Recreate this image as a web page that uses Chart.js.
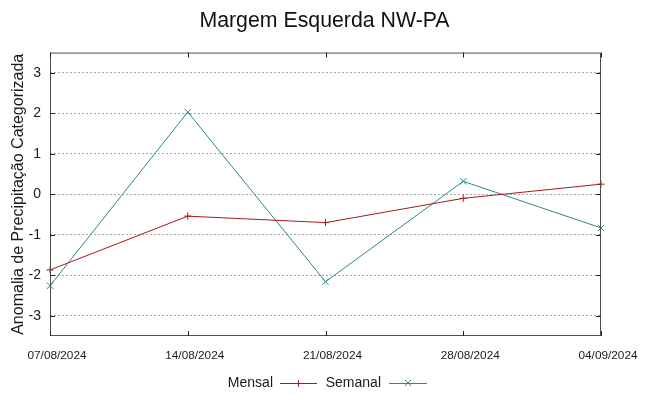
<!DOCTYPE html>
<html>
<head>
<meta charset="utf-8">
<script src="https://cdn.jsdelivr.net/npm/chart.js@4"></script>
<style>
  html, body { margin: 0; padding: 0; background: #fff; }
  #wrap { width: 649px; height: 396px; }
</style>
</head>
<body>
<div id="wrap"><canvas id="lineChart" width="649" height="396"></canvas></div>
<script>
// Dados
var datas = ['07/08/2024', '14/08/2024', '21/08/2024', '28/08/2024', '04/09/2024'];
var mensal = [-1.87, -0.54, -0.70, -0.10, 0.25];
var semanal = [-2.26, 2.03, -2.16, 0.32, -0.83];
var yTicks = [-3, -2, -1, 0, 1, 2, 3];

var fonte = "'Liberation Sans', Arial, sans-serif";

// borda estilo gnuplot, com marcas de tick para dentro
var bordaPlugin = {
    id: 'borda',
    afterDatasetsDraw: function (chart) {
        var ctx = chart.ctx;
        var a = chart.chartArea;
        var x = chart.scales.x, y = chart.scales.y;
        var t = 5;
        ctx.save();
        ctx.strokeStyle = '#505050';
        ctx.lineWidth = 1;
        ctx.strokeRect(a.left + 0.5, a.top + 0.5, a.right - a.left - 1, a.bottom - a.top - 1);
        ctx.strokeStyle = '#202020';
        ctx.beginPath();
        yTicks.forEach(function (v) {
            var py = Math.round(y.getPixelForValue(v)) + 0.5;
            ctx.moveTo(a.left, py); ctx.lineTo(a.left + t, py);
            ctx.moveTo(a.right, py); ctx.lineTo(a.right - t, py);
        });
        datas.forEach(function (d, i) {
            var px = Math.round(x.getPixelForValue(i)) + 0.5;
            ctx.moveTo(px, a.bottom); ctx.lineTo(px, a.bottom - t);
            ctx.moveTo(px, a.top); ctx.lineTo(px, a.top + t);
        });
        ctx.stroke();
        ctx.restore();
    }
};

// legenda embaixo: texto e depois a amostra da linha
var legendaPlugin = {
    id: 'legenda',
    afterDraw: function (chart) {
        var ctx = chart.ctx;
        var cy = 383;
        var itens = [
            { textoFim: 273, linha: [280, 317] },
            { textoFim: 381, linha: [389, 427] }
        ];
        ctx.save();
        ctx.font = '14px ' + fonte;
        ctx.textAlign = 'right';
        ctx.textBaseline = 'middle';
        chart.data.datasets.forEach(function (ds, i) {
            var it = itens[i];
            ctx.fillStyle = '#1a1a1a';
            ctx.fillText(ds.label, it.textoFim, cy);
            ctx.strokeStyle = ds.borderColor;
            ctx.lineWidth = 1;
            ctx.beginPath();
            ctx.moveTo(it.linha[0], cy + 0.5);
            ctx.lineTo(it.linha[1], cy + 0.5);
            var mx = (it.linha[0] + it.linha[1]) / 2;
            if (ds.pointStyle === 'cross') {
                ctx.moveTo(mx, cy - 3); ctx.lineTo(mx, cy + 4);
            } else {
                ctx.moveTo(mx - 3, cy - 3); ctx.lineTo(mx + 3, cy + 3);
                ctx.moveTo(mx - 3, cy + 3); ctx.lineTo(mx + 3, cy - 3);
            }
            ctx.stroke();
        });
        ctx.restore();
    }
};

var ctxLine = document.getElementById('lineChart').getContext('2d');
new Chart(ctxLine, {
    type: 'line',
    data: {
        labels: datas,
        datasets: [{
            label: 'Mensal',
            data: mensal,
            borderColor: '#a81818',
            backgroundColor: '#a81818',
            borderWidth: 1,
            pointStyle: 'cross',
            pointRadius: 3.5,
            pointBorderWidth: 1,
            tension: 0,
            clip: false
        }, {
            label: 'Semanal',
            data: semanal,
            borderColor: '#2a8888',
            backgroundColor: '#2a8888',
            borderWidth: 1,
            pointStyle: 'crossRot',
            pointRadius: 4.5,
            pointBorderWidth: 1,
            tension: 0,
            clip: false
        }]
    },
    options: {
        responsive: false,
        animation: false,
        layout: { padding: 0 },
        plugins: {
            legend: { display: false },
            tooltip: { enabled: false },
            title: {
                display: true,
                text: 'Margem Esquerda NW-PA',
                color: '#111',
                font: { family: fonte, size: 21.3, weight: 'normal' },
                padding: { top: 8, bottom: 19 }
            }
        },
        scales: {
            x: {
                type: 'category',
                offset: false,
                grid: { display: false, drawTicks: false },
                border: { display: false },
                ticks: {
                    color: '#1a1a1a',
                    font: { family: fonte, size: 11.8 },
                    padding: 13,
                    labelOffset: 7,
                    maxRotation: 0,
                    autoSkip: false
                },
                afterFit: function (s) { s.height = 60; }
            },
            y: {
                min: -3.5,
                max: 3.5,
                afterBuildTicks: function (s) {
                    s.ticks = yTicks.map(function (v) { return { value: v }; });
                },
                grid: {
                    color: '#a8a8a8',
                    lineWidth: 1,
                    drawTicks: false
                },
                border: { display: false, dash: [2, 2] },
                ticks: {
                    color: '#1a1a1a',
                    font: { family: fonte, size: 14 },
                    padding: 9
                },
                title: {
                    display: true,
                    text: 'Anomalia de Precipitação Categorizada',
                    color: '#1a1a1a',
                    font: { family: fonte, size: 16 },
                    padding: { top: 9, bottom: 0 }
                },
                afterFit: function (s) { s.width = 50; }
            },
            // eixo vazio à direita só para reservar a margem
            yDir: {
                position: 'right',
                display: true,
                min: -3.5,
                max: 3.5,
                grid: { display: false, drawTicks: false },
                border: { display: false },
                ticks: { display: false },
                afterFit: function (s) { s.width = 48; }
            }
        }
    },
    plugins: [bordaPlugin, legendaPlugin]
});
</script>
</body>
</html>
